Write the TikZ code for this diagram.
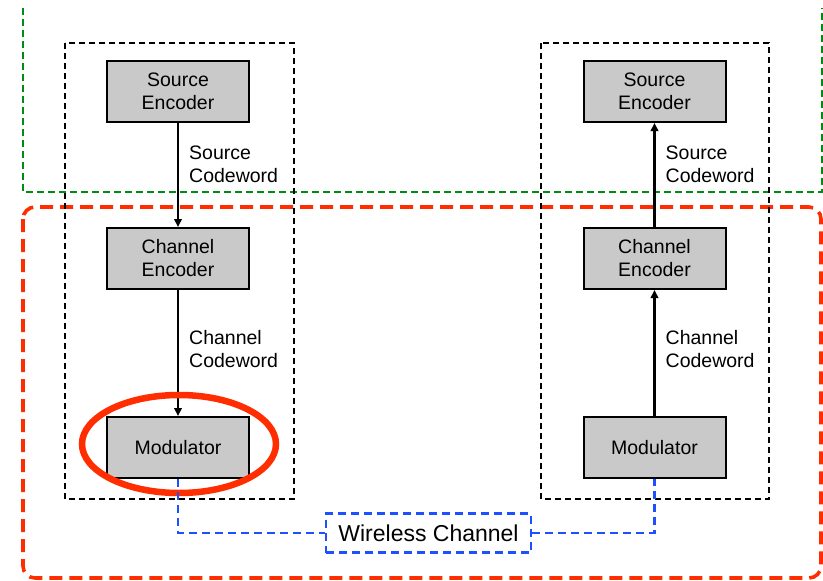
\documentclass[tikz,border=0pt]{standalone}
\usepackage{fontspec}
\setmainfont{Liberation Sans}
\usetikzlibrary{arrows.meta,positioning}
\definecolor{tiergreen}{RGB}{0,140,20}
\definecolor{tierred}{RGB}{255,45,0}
\definecolor{linkblue}{RGB}{30,80,255}

\begin{document}
\begin{tikzpicture}[
    x=1pt, y=-1pt,
    >={Triangle[length=8pt,width=7.5pt]},
    flowline/.style={->, line width=2.4pt, draw=black},
    block/.style={
      draw=black,
      line width=2pt,
      fill=black!21,
      align=center,
      minimum width=142pt,
      minimum height=61pt,
      inner sep=2pt,
      font=\fontsize{19.5}{23}\selectfont
    },
    cwlabel/.style={align=left, inner sep=0pt, font=\fontsize{19.5}{23}\selectfont},
    unitbox/.style={draw=black, line width=1.6pt, dash pattern=on 6pt off 4pt},
    tiergreen/.style={draw=tiergreen, line width=2.2pt, dash pattern=on 7pt off 4pt},
    tierred/.style={draw=tierred, line width=3.6pt, dash pattern=on 13pt off 7pt, rounded corners=12pt},
    hilite/.style={draw=tierred, line width=6.5pt},
    radiolink/.style={draw=linkblue, line width=2.8pt, dash pattern=on 8pt off 5pt},
    channelbox/.style={
      radiolink,
      fill=white,
      minimum width=205pt,
      minimum height=39pt,
      inner sep=0pt,
      font=\fontsize{23}{26}\selectfont
    }
  ]
    \useasboundingbox (0,0) rectangle (823,581);

    % groupings
    \draw[tiergreen] (23,8) -- (23,192) -- (822,192) -- (822,8);
    \draw[tierred] (23,207) rectangle (821,578);
    \draw[unitbox] (65,43) rectangle (294,499);
    \draw[unitbox] (541,43) rectangle (769,499);

    % transmitter
    \node[block] (srcencL) at (178,91.5) {Source\\Encoder};
    \node[block, below=104pt of srcencL] (chencL) {Channel\\Encoder};
    \node[block, below=126pt of chencL] (modL) {Modulator};

    % receiver
    \node[block] (srcencR) at (654.5,91.5) {Source\\Encoder};
    \node[block, below=104pt of srcencR] (chencR) {Channel\\Encoder};
    \node[block, below=126pt of chencR] (modR) {Modulator};

    \draw[flowline] (srcencL) -- node[cwlabel, pos=0.4, right=10pt] (srccwL) {Source\\Codeword} (chencL);
    \draw[flowline] (chencL) -- node[cwlabel, pos=0.47, right=10pt] (chcwL) {Channel\\Codeword} (modL);
    \draw[flowline] (chencR) -- node[cwlabel, pos=0.6, right=10pt] (srccwR) {Source\\Codeword} (srcencR);
    \draw[flowline] (modR) -- node[cwlabel, pos=0.53, right=10pt] (chcwR) {Channel\\Codeword} (chencR);

    \draw[hilite] (179,444) ellipse (97pt and 49pt);

    % wireless link
    \node[channelbox] (wireless) at (428.5,533) {Wireless Channel};
    \draw[radiolink] (modL.south) |- (wireless.west);
    \draw[radiolink] (wireless.east) -| (modR.south);
  \end{tikzpicture}
\end{document}
